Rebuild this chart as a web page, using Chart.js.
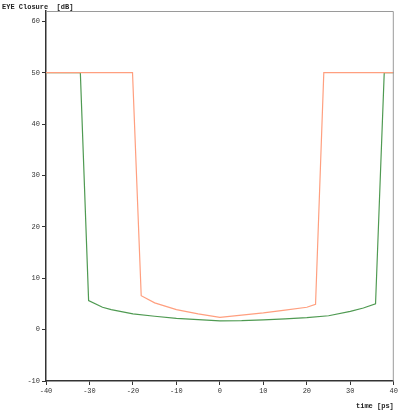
<!DOCTYPE html>
<html>
<head>
<meta charset="utf-8">
<script src="https://cdn.jsdelivr.net/npm/chart.js@4/dist/chart.umd.min.js"></script>
<style>
  html, body { margin: 0; padding: 0; background: #fff; }
  canvas { display: block; }
</style>
</head>
<body>
<canvas id="eyeClosure" width="400" height="412"></canvas>
<script>
// time [ps] and eye closure [dB]
var orangeTime = [-40, -20.1, -18.1, -15, -10, -5, 0, 5, 10, 15, 20, 22, 23.9, 40];
var orangeClosure = [50, 50, 6.6, 5.2, 3.9, 3.05, 2.4, 2.8, 3.25, 3.8, 4.35, 4.9, 50, 50];

var greenTime = [-40, -32.1, -30.2, -27, -25, -20, -15, -10, -5, 0, 5, 10, 15, 20, 25, 30, 33, 35.8, 37.8, 40];
var greenClosure = [50, 50, 5.65, 4.35, 3.9, 3.05, 2.6, 2.2, 1.95, 1.7, 1.75, 1.9, 2.1, 2.35, 2.7, 3.55, 4.2, 5.0, 50, 50];

var xTicks = [-40, -30, -20, -10, 0, 10, 20, 30, 40];
var yTicks = [-10, 0, 10, 20, 30, 40, 50, 60];

function toPoints(xs, ys) {
  return xs.map(function (x, i) { return { x: x, y: ys[i] }; });
}

var tickFont = { family: 'Liberation Mono', size: 7 };

var frame = {
  id: 'frame',
  afterDraw: function (chart) {
    var a = chart.chartArea;
    var ctx = chart.ctx;
    ctx.save();
    ctx.strokeStyle = '#9a9a9a';
    ctx.lineWidth = 1;
    ctx.beginPath();
    ctx.moveTo(a.left, a.top + 0.5);
    ctx.lineTo(a.right - 0.5, a.top + 0.5);
    ctx.lineTo(a.right - 0.5, a.bottom);
    ctx.stroke();
    ctx.restore();
  }
};

var ctx = document.getElementById('eyeClosure').getContext('2d');
var chart = new Chart(ctx, {
  type: 'scatter',
  data: {
    datasets: [
      {
        label: 'orange',
        data: toPoints(orangeTime, orangeClosure),
        showLine: true,
        borderColor: '#ff9f7f',
        borderWidth: 1.2,
        pointRadius: 0,
        tension: 0
      },
      {
        label: 'green',
        data: toPoints(greenTime, greenClosure),
        showLine: true,
        borderColor: '#4f9a52',
        borderWidth: 1.2,
        pointRadius: 0,
        tension: 0
      }
    ]
  },
  options: {
    responsive: false,
    animation: false,
    layout: { padding: { top: 1.6, left: 2, right: 6, bottom: 0 } },
    plugins: {
      legend: { display: false },
      tooltip: { enabled: false },
      title: {
        display: true,
        text: 'EYE Closure  [dB]',
        align: 'start',
        color: '#222',
        font: { family: 'Liberation Mono', size: 7, weight: 'bold' },
        padding: { top: 1, bottom: 0 }
      }
    },
    scales: {
      x: {
        type: 'linear',
        min: -40,
        max: 40,
        afterBuildTicks: function (axis) { axis.ticks = xTicks.map(function (v) { return { value: v }; }); },
        afterFit: function (axis) { axis.height = 31; },
        border: { color: '#333', width: 1.5 },
        grid: { drawOnChartArea: false, tickLength: 4, color: '#333' },
        ticks: { font: tickFont, color: '#333', padding: 2, maxRotation: 0 },
        title: {
          display: true,
          text: 'time [ps]',
          align: 'end',
          color: '#222',
          font: { family: 'Liberation Mono', size: 7, weight: 'bold' },
          padding: { top: 0, bottom: 2 }
        }
      },
      y: {
        type: 'linear',
        min: -10,
        max: 62,
        afterBuildTicks: function (axis) { axis.ticks = yTicks.map(function (v) { return { value: v }; }); },
        afterFit: function (axis) { axis.width = 44; },
        border: { color: '#333', width: 1.5 },
        grid: { drawOnChartArea: false, tickLength: 4, color: '#333' },
        ticks: { font: tickFont, color: '#333', padding: 2 }
      }
    }
  },
  plugins: [frame]
});
</script>
</body>
</html>
